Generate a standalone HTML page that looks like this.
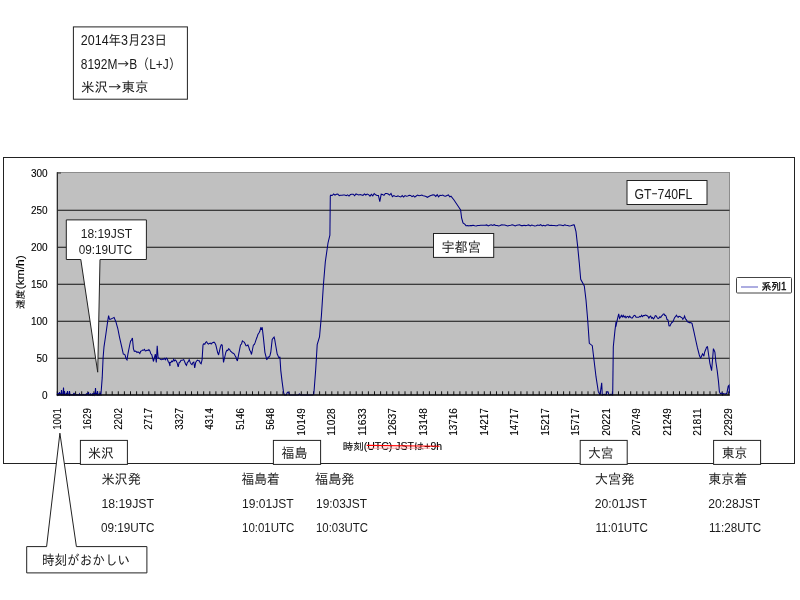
<!DOCTYPE html>
<html lang="ja"><head><meta charset="utf-8"><title>速度グラフ 米沢→東京</title>
<style>
html,body{margin:0;padding:0;background:#fff;}
body{width:800px;height:600px;overflow:hidden;}
svg{display:block}
text{font-family:"Liberation Sans","IPAGothic","Noto Sans CJK JP",sans-serif;fill:#1a1a1a}
.ax{font-size:10px;fill:#000;stroke:#000;stroke-width:0.1px}
.lg{font-size:10px;fill:#000;stroke:#000;stroke-width:0.3px}
.t{font-size:13.8px}
.l{font-size:12px}
.j{font-family:"IPAGothic","Noto Sans CJK JP",sans-serif}
</style></head><body>
<svg width="800" height="600" viewBox="0 0 800 600">
<rect x="0" y="0" width="800" height="600" fill="#fff"/>
<rect x="3.5" y="157.5" width="791" height="306" fill="#fff" stroke="#222" stroke-width="1"/>
<rect x="57.5" y="172.5" width="672" height="222.5" fill="#c0c0c0" stroke="#8c8c8c" stroke-width="1"/>
<line x1="57.5" x2="729.5" y1="358.2" y2="358.2" stroke="#111" stroke-width="1.05"/>
<line x1="57.5" x2="729.5" y1="321.2" y2="321.2" stroke="#111" stroke-width="1.05"/>
<line x1="57.5" x2="729.5" y1="284.2" y2="284.2" stroke="#111" stroke-width="1.05"/>
<line x1="57.5" x2="729.5" y1="247.2" y2="247.2" stroke="#111" stroke-width="1.05"/>
<line x1="57.5" x2="729.5" y1="210.2" y2="210.2" stroke="#111" stroke-width="1.05"/>
<line x1="57.3" x2="57.3" y1="172.3" y2="395.5" stroke="#222" stroke-width="1.2"/>
<line x1="57" x2="61" y1="173" y2="173" stroke="#333" stroke-width="1"/>
<path d="M57.3 391.3V395M63.4 391.3V395M69.5 391.3V395M75.6 391.3V395M81.7 391.3V395M87.8 391.3V395M93.9 391.3V395M100.0 391.3V395M106.1 391.3V395M112.2 391.3V395M118.3 391.3V395M124.4 391.3V395M130.5 391.3V395M136.6 391.3V395M142.7 391.3V395M148.8 391.3V395M154.9 391.3V395M161.0 391.3V395M167.1 391.3V395M173.2 391.3V395M179.3 391.3V395M185.4 391.3V395M191.5 391.3V395M197.6 391.3V395M203.7 391.3V395M209.8 391.3V395M215.9 391.3V395M222.0 391.3V395M228.1 391.3V395M234.2 391.3V395M240.3 391.3V395M246.4 391.3V395M252.5 391.3V395M258.6 391.3V395M264.7 391.3V395M270.8 391.3V395M276.9 391.3V395M283.0 391.3V395M289.1 391.3V395M295.2 391.3V395M301.3 391.3V395M307.4 391.3V395M313.5 391.3V395M319.6 391.3V395M325.7 391.3V395M331.8 391.3V395M337.9 391.3V395M344.0 391.3V395M350.1 391.3V395M356.2 391.3V395M362.3 391.3V395M368.4 391.3V395M374.5 391.3V395M380.6 391.3V395M386.7 391.3V395M392.8 391.3V395M398.9 391.3V395M405.0 391.3V395M411.1 391.3V395M417.2 391.3V395M423.3 391.3V395M429.4 391.3V395M435.5 391.3V395M441.6 391.3V395M447.7 391.3V395M453.8 391.3V395M459.9 391.3V395M466.0 391.3V395M472.1 391.3V395M478.2 391.3V395M484.3 391.3V395M490.4 391.3V395M496.5 391.3V395M502.6 391.3V395M508.7 391.3V395M514.8 391.3V395M520.9 391.3V395M527.0 391.3V395M533.1 391.3V395M539.2 391.3V395M545.3 391.3V395M551.4 391.3V395M557.5 391.3V395M563.6 391.3V395M569.7 391.3V395M575.8 391.3V395M581.9 391.3V395M588.0 391.3V395M594.1 391.3V395M600.2 391.3V395M606.3 391.3V395M612.4 391.3V395M618.5 391.3V395M624.6 391.3V395M630.7 391.3V395M636.8 391.3V395M642.9 391.3V395M649.0 391.3V395M655.1 391.3V395M661.2 391.3V395M667.3 391.3V395M673.4 391.3V395M679.5 391.3V395M685.6 391.3V395M691.7 391.3V395M697.8 391.3V395M703.9 391.3V395M710.0 391.3V395M716.1 391.3V395M722.2 391.3V395M728.3 391.3V395" stroke="#111" stroke-width="1" fill="none"/>
<text x="47.6" y="398.8" class="ax" text-anchor="end">0</text>
<text x="47.6" y="361.8" class="ax" text-anchor="end">50</text>
<text x="47.6" y="324.8" class="ax" text-anchor="end">100</text>
<text x="47.6" y="287.8" class="ax" text-anchor="end">150</text>
<text x="47.6" y="250.8" class="ax" text-anchor="end">200</text>
<text x="47.6" y="213.8" class="ax" text-anchor="end">250</text>
<text x="47.6" y="176.8" class="ax" text-anchor="end">300</text>
<text transform="translate(60.5 429.8) rotate(-90)" class="ax" textLength="21.6" lengthAdjust="spacingAndGlyphs">1001</text>
<text transform="translate(91.0 429.8) rotate(-90)" class="ax" textLength="21.6" lengthAdjust="spacingAndGlyphs">1629</text>
<text transform="translate(121.5 429.8) rotate(-90)" class="ax" textLength="21.6" lengthAdjust="spacingAndGlyphs">2202</text>
<text transform="translate(152.0 429.8) rotate(-90)" class="ax" textLength="21.6" lengthAdjust="spacingAndGlyphs">2717</text>
<text transform="translate(182.5 429.8) rotate(-90)" class="ax" textLength="21.6" lengthAdjust="spacingAndGlyphs">3327</text>
<text transform="translate(213.0 429.8) rotate(-90)" class="ax" textLength="21.6" lengthAdjust="spacingAndGlyphs">4314</text>
<text transform="translate(243.5 429.8) rotate(-90)" class="ax" textLength="21.6" lengthAdjust="spacingAndGlyphs">5146</text>
<text transform="translate(274.0 429.8) rotate(-90)" class="ax" textLength="21.6" lengthAdjust="spacingAndGlyphs">5648</text>
<text transform="translate(304.5 435.8) rotate(-90)" class="ax" textLength="27.6" lengthAdjust="spacingAndGlyphs">10149</text>
<text transform="translate(335.0 435.8) rotate(-90)" class="ax" textLength="27.6" lengthAdjust="spacingAndGlyphs">11028</text>
<text transform="translate(365.5 435.8) rotate(-90)" class="ax" textLength="27.6" lengthAdjust="spacingAndGlyphs">11633</text>
<text transform="translate(396.0 435.8) rotate(-90)" class="ax" textLength="27.6" lengthAdjust="spacingAndGlyphs">12637</text>
<text transform="translate(426.5 435.8) rotate(-90)" class="ax" textLength="27.6" lengthAdjust="spacingAndGlyphs">13148</text>
<text transform="translate(457.0 435.8) rotate(-90)" class="ax" textLength="27.6" lengthAdjust="spacingAndGlyphs">13716</text>
<text transform="translate(487.5 435.8) rotate(-90)" class="ax" textLength="27.6" lengthAdjust="spacingAndGlyphs">14217</text>
<text transform="translate(518.0 435.8) rotate(-90)" class="ax" textLength="27.6" lengthAdjust="spacingAndGlyphs">14717</text>
<text transform="translate(548.5 435.8) rotate(-90)" class="ax" textLength="27.6" lengthAdjust="spacingAndGlyphs">15217</text>
<text transform="translate(579.0 435.8) rotate(-90)" class="ax" textLength="27.6" lengthAdjust="spacingAndGlyphs">15717</text>
<text transform="translate(609.5 435.8) rotate(-90)" class="ax" textLength="27.6" lengthAdjust="spacingAndGlyphs">20221</text>
<text transform="translate(640.0 435.8) rotate(-90)" class="ax" textLength="27.6" lengthAdjust="spacingAndGlyphs">20749</text>
<text transform="translate(670.5 435.8) rotate(-90)" class="ax" textLength="27.6" lengthAdjust="spacingAndGlyphs">21249</text>
<text transform="translate(701.0 435.8) rotate(-90)" class="ax" textLength="27.6" lengthAdjust="spacingAndGlyphs">21811</text>
<text transform="translate(731.5 435.8) rotate(-90)" class="ax" textLength="27.6" lengthAdjust="spacingAndGlyphs">22929</text>
<text transform="translate(24.2 309) rotate(-90)" class="ax"><tspan textLength="19.5" lengthAdjust="spacingAndGlyphs">速度</tspan><tspan x="19.7" textLength="34" lengthAdjust="spacingAndGlyphs">(km/h)</tspan></text>
<text x="342.7" y="450" class="ax" textLength="99.5" lengthAdjust="spacingAndGlyphs">時刻(UTC) JSTは+9h</text>
<line x1="366.7" y1="445.4" x2="439.5" y2="446.3" stroke="#f00" stroke-width="1.1"/>
<line x1="366.7" y1="448.2" x2="430" y2="448.2" stroke="#ff9a9a" stroke-width="0.9"/>
<path d="M57.5 393.0 L58.0 395.0 L58.5 394.0 L59.0 395.0 L59.5 392.0 L60.0 395.0 L60.5 393.5 L61.0 395.0 L61.5 390.0 L62.0 395.0 L62.5 394.5 L63.0 395.0 L63.5 387.5 L64.0 395.0 L64.5 391.0 L65.0 395.0 L65.5 394.5 L66.0 395.0 L66.5 393.0 L67.0 395.0 L67.5 391.0 L68.0 395.0 L68.5 394.5 L69.0 395.0 L69.5 391.0 L70.0 395.0 L70.5 394.5 L71.0 395.0 L71.5 394.7 L72.0 395.0 L72.5 394.7 L73.0 395.0 L73.5 393.8 L74.0 395.0 L74.5 393.8 L75.0 395.0 L75.5 394.7 L76.0 395.0 L76.5 394.5 L77.0 395.0 L77.5 394.7 L78.0 395.0 L78.5 394.8 L79.0 395.0 L79.5 393.8 L80.0 395.0 L80.5 394.7 L81.0 395.0 L81.5 394.8 L82.0 395.0 L82.5 394.7 L83.0 395.0 L83.5 394.5 L84.0 395.0 L84.5 394.8 L85.0 395.0 L85.5 394.7 L86.0 395.0 L86.5 393.5 L87.0 395.0 L87.5 393.5 L88.0 395.0 L88.5 392.0 L89.0 395.0 L89.5 394.5 L90.0 395.0 L90.5 394.0 L91.0 395.0 L91.5 394.5 L92.0 395.0 L92.5 393.5 L93.0 395.0 L93.5 394.0 L94.0 395.0 L94.5 393.0 L95.0 395.0 L95.5 388.0 L96.0 395.0 L96.5 394.0 L97.0 395.0 L97.5 391.0 L98.0 395.0 L98.5 394.5 L99.0 395.0 L99.5 393.5 L100.0 395.0 L100.5 393.0 L101.0 395.0 L100.9 395.0 L102.2 377.9 L103.1 357.8 L104.0 346.8 L105.9 334.0 L107.7 321.1 L108.6 315.7 L109.5 319.3 L110.5 319.3 L112.3 318.4 L114.1 317.5 L116.0 322.1 L117.8 328.5 L119.6 337.6 L121.5 345.9 L123.3 354.1 L124.2 354.2 L125.1 355.0 L126.0 358.4 L127.0 359.8 L127.9 354.1 L129.7 345.0 L130.6 341.1 L131.5 340.0 L132.4 338.0 L133.4 348.6 L134.3 351.4 L135.2 351.0 L136.1 351.5 L137.0 352.6 L137.9 351.8 L138.9 352.5 L139.8 353.5 L140.7 351.2 L141.6 350.9 L142.5 350.1 L143.4 350.3 L144.4 349.4 L145.3 351.0 L146.2 350.8 L147.1 350.1 L148.0 350.6 L148.9 349.6 L149.9 350.9 L150.8 353.8 L151.7 354.5 L152.6 357.9 L153.5 361.5 L155.3 354.1 L156.3 362.4 L157.2 345.9 L158.1 357.8 L159.0 358.2 L159.9 358.9 L160.8 359.4 L161.8 359.7 L162.7 359.1 L163.6 359.2 L164.5 358.4 L165.4 359.7 L166.3 358.1 L167.3 359.1 L168.2 361.5 L169.1 362.8 L170.0 366.0 L170.0 362.4 L170.9 362.5 L171.8 361.0 L172.7 361.6 L173.7 359.3 L174.6 360.9 L175.5 360.0 L176.4 361.3 L177.3 363.3 L178.2 367.0 L179.2 362.4 L180.1 362.0 L181.0 360.3 L181.9 360.2 L182.8 360.0 L183.7 359.6 L184.7 361.7 L185.6 364.2 L186.5 365.3 L187.4 362.4 L188.3 361.7 L189.2 359.6 L190.2 362.4 L191.1 364.0 L192.0 364.7 L192.9 362.5 L193.8 362.0 L194.7 367.9 L195.7 362.4 L196.6 361.0 L197.5 360.1 L198.4 360.7 L199.3 360.7 L200.2 363.0 L201.1 363.8 L202.1 359.6 L203.0 345.0 L203.9 343.7 L204.8 344.2 L205.7 342.3 L206.6 341.7 L207.6 343.5 L208.5 344.1 L209.4 343.4 L210.3 343.1 L211.2 344.0 L212.1 343.0 L213.1 342.5 L214.0 342.2 L214.9 343.0 L215.8 344.9 L217.6 352.3 L218.6 355.0 L220.4 346.8 L221.3 344.7 L222.2 345.1 L223.5 362.4 L225.0 356.0 L225.9 352.2 L226.8 350.3 L227.7 350.6 L228.6 348.8 L229.5 349.3 L230.5 351.1 L231.4 351.9 L232.3 352.7 L233.2 353.2 L234.1 353.8 L235.0 355.6 L236.0 357.3 L236.7 359.6 L237.4 361.0 L238.7 354.1 L240.5 345.0 L241.5 344.0 L242.4 340.9 L243.3 341.6 L244.2 342.1 L245.1 343.8 L246.0 345.7 L247.0 345.8 L247.9 344.9 L248.8 347.1 L249.7 350.2 L250.6 351.5 L251.5 354.5 L253.4 345.0 L254.3 344.6 L255.2 342.4 L256.1 339.6 L257.0 337.3 L257.9 334.5 L258.9 333.0 L259.8 331.3 L260.7 328.0 L261.4 328.9 L262.2 327.2 L263.4 337.6 L264.9 352.3 L266.7 359.3 L267.5 358.8 L268.2 357.1 L268.9 357.1 L269.9 355.7 L270.8 352.2 L272.2 339.5 L273.2 338.2 L274.1 337.1 L274.7 339.3 L275.3 343.0 L277.2 354.1 L277.9 355.4 L278.6 357.4 L279.3 357.6 L279.9 356.7 L280.8 370.6 L282.1 381.6 L283.6 392.6 L284.5 395.0 L285.0 395.0 L286.2 395.0 L287.4 392.3 L288.6 392.3 L289.8 395.0 L291.0 395.0 L292.2 395.0 L293.4 395.0 L294.6 395.0 L295.8 395.0 L297.0 395.0 L298.2 395.0 L299.4 394.0 L300.6 395.0 L301.8 395.0 L303.0 395.0 L304.2 395.0 L305.4 395.0 L306.6 395.0 L307.8 395.0 L309.0 395.0 L310.2 395.0 L311.4 395.0 L312.6 395.0 L313.8 394.5 L315.7 369.5 L317.2 344.6 L319.5 337.0 L321.4 315.8 L323.4 285.0 L325.3 262.0 L328.0 243.0 L329.9 235.2 L330.3 196.0 L330.8 195.2 L332.2 195.5 L333.6 194.0 L335.0 195.2 L336.4 194.2 L337.8 194.0 L339.2 195.6 L340.6 195.2 L342.0 195.3 L343.4 195.0 L344.8 195.1 L346.2 195.7 L347.6 194.9 L349.0 196.1 L350.4 194.6 L351.8 194.3 L353.2 194.2 L354.6 195.7 L356.0 193.9 L357.4 194.5 L358.8 195.0 L360.2 194.6 L361.6 194.9 L363.0 195.3 L364.4 193.9 L365.8 195.0 L367.2 194.1 L368.6 194.6 L370.0 196.1 L371.4 194.4 L372.8 195.8 L374.2 193.5 L375.6 194.8 L377.0 195.4 L378.4 195.4 L379.8 201.6 L381.2 194.2 L382.6 194.6 L384.0 195.4 L385.4 193.5 L386.8 193.5 L388.2 194.0 L389.6 195.1 L391.0 193.5 L392.4 196.6 L393.8 195.5 L395.2 196.2 L396.6 196.5 L398.0 195.9 L399.4 196.6 L400.8 197.0 L402.2 195.6 L403.6 197.1 L405.0 195.6 L406.4 196.3 L407.8 196.0 L409.2 195.3 L410.6 195.4 L412.0 196.6 L413.4 195.7 L414.8 197.1 L416.2 196.0 L417.6 195.1 L419.0 195.7 L420.4 195.4 L421.8 195.1 L423.2 195.8 L424.6 196.1 L426.0 196.5 L427.4 197.3 L428.8 196.5 L430.2 195.7 L431.6 195.3 L433.0 194.9 L434.4 195.1 L435.8 196.4 L437.2 194.7 L438.6 196.9 L440.0 195.2 L441.4 195.4 L442.8 195.1 L444.2 196.1 L445.6 196.3 L447.0 195.5 L448.4 195.0 L449.8 196.9 L451.0 196.2 L454.0 200.0 L458.0 206.0 L460.6 210.0 L461.6 218.0 L463.0 223.0 L465.0 224.4 L466.0 225.8 L468.0 225.6 L468.7 225.9 L470.2 225.5 L471.7 225.6 L473.2 225.2 L474.7 225.8 L476.2 225.9 L477.7 225.6 L479.2 225.4 L480.7 225.2 L482.2 225.2 L483.7 225.3 L485.2 225.2 L486.7 224.9 L488.2 226.0 L489.7 225.2 L491.2 224.8 L492.7 225.4 L494.2 224.7 L495.7 225.4 L497.2 225.4 L498.7 225.9 L500.2 225.5 L501.7 224.7 L503.2 224.9 L504.7 225.1 L506.2 225.5 L507.7 225.9 L509.2 225.4 L510.7 225.3 L512.2 224.8 L513.7 225.3 L515.2 226.0 L516.7 225.3 L518.2 225.0 L519.7 224.8 L521.2 225.6 L522.7 225.6 L524.2 225.3 L525.7 225.6 L527.2 225.3 L528.7 224.9 L530.2 225.9 L531.7 225.1 L533.2 225.6 L534.7 225.9 L536.2 225.7 L537.7 225.0 L539.2 225.5 L540.7 224.7 L542.2 225.8 L543.7 225.3 L545.2 225.9 L546.7 225.1 L548.2 224.9 L549.7 225.4 L551.2 225.3 L552.7 225.5 L554.2 225.5 L555.7 225.7 L557.2 225.7 L558.7 224.9 L560.2 224.9 L561.7 225.2 L563.2 225.7 L564.7 224.9 L566.2 225.3 L567.7 225.6 L569.2 226.0 L570.7 225.7 L572.2 225.3 L573.7 224.9 L574.3 225.0 L576.0 231.7 L577.7 246.7 L579.3 263.3 L580.7 279.3 L584.3 286.0 L586.0 300.0 L587.7 320.0 L589.3 343.3 L592.3 345.7 L594.0 360.0 L596.0 376.7 L598.3 391.7 L600.0 395.0 L601.7 382.7 L602.3 395.0 L603.0 394.6 L604.0 394.2 L605.0 394.6 L606.0 394.6 L607.0 391.8 L608.0 391.8 L609.0 395.0 L610.0 395.0 L611.0 394.2 L612.0 395.0 L612.7 395.0 L613.3 346.7 L615.0 330.0 L616.0 322.0 L615.9 326.6 L617.2 320.2 L618.7 313.8 L619.6 318.4 L620.5 317.1 L621.4 315.4 L622.3 317.0 L623.2 315.4 L624.2 317.1 L625.1 316.2 L626.0 317.8 L626.9 316.6 L627.8 316.4 L628.7 317.6 L629.7 316.2 L630.6 317.4 L631.5 317.9 L632.4 317.9 L633.3 316.5 L634.2 315.3 L635.2 315.7 L636.1 317.2 L637.0 317.3 L637.9 317.3 L638.8 317.3 L639.7 316.4 L640.7 316.9 L641.6 315.3 L642.5 316.7 L643.4 315.5 L644.3 315.6 L645.2 315.1 L646.1 315.3 L647.1 315.8 L648.0 316.4 L648.9 318.1 L649.8 316.7 L650.7 316.0 L651.6 318.3 L652.6 317.6 L653.5 318.9 L654.4 317.8 L655.3 315.6 L656.2 315.9 L657.1 317.5 L658.1 318.5 L659.0 318.1 L659.9 316.8 L660.8 317.5 L661.7 315.8 L662.5 315.2 L663.3 314.0 L664.1 314.1 L664.8 315.4 L665.6 315.3 L666.3 316.9 L667.0 319.5 L667.8 319.7 L668.4 321.9 L669.0 325.7 L670.0 325.9 L670.9 323.9 L671.8 322.4 L672.7 322.0 L673.6 320.1 L674.5 317.7 L675.5 316.7 L676.4 315.3 L677.3 316.6 L678.2 317.2 L679.1 316.3 L680.0 316.4 L681.0 317.2 L681.9 317.6 L682.8 319.4 L683.7 318.3 L684.6 316.1 L685.5 319.0 L686.5 319.9 L687.4 321.7 L688.3 322.0 L689.2 322.6 L690.1 322.5 L691.0 322.8 L692.0 323.4 L693.8 331.2 L695.6 339.5 L697.4 347.7 L699.3 355.0 L700.0 357.0 L700.7 358.0 L701.7 355.7 L702.6 353.8 L703.2 354.8 L703.9 356.2 L704.5 352.7 L705.1 351.0 L705.9 349.0 L706.6 347.1 L707.5 346.8 L708.4 353.2 L709.9 363.3 L711.6 370.6 L712.7 357.8 L713.4 348.6 L714.1 350.2 L714.9 352.1 L715.8 361.5 L717.2 370.6 L718.5 381.6 L719.4 391.7 L720.3 393.7 L721.3 393.3 L722.0 393.0 L722.7 394.9 L723.4 393.6 L724.0 393.7 L724.7 394.0 L725.5 394.1 L726.1 393.6 L726.8 393.7 L728.2 386.2 L729.0 385.3 L729.5 393.5" fill="none" stroke="#000080" stroke-width="1.05" stroke-linejoin="miter" stroke-miterlimit="3"/>
<line x1="56.7" x2="729.8" y1="395" y2="395" stroke="#0a0a0a" stroke-width="1.4"/>
<rect x="736.5" y="277.5" width="55" height="15.5" rx="1" fill="#fff" stroke="#444" stroke-width="1"/>
<line x1="741" x2="758" y1="287" y2="287" stroke="#6a6ac8" stroke-width="1.1"/>
<text x="761.5" y="290" class="lg" textLength="25" lengthAdjust="spacingAndGlyphs">系列1</text>
<rect x="73.4" y="26.9" width="114.0" height="72.3" fill="#fff" stroke="#222" stroke-width="1"/>
<text x="80.8" y="45.3" class="t" textLength="86.2" lengthAdjust="spacingAndGlyphs">2014年3月23日</text>
<text x="80.8" y="68.5" class="t" textLength="100" lengthAdjust="spacingAndGlyphs">8192M<tspan class="j">→</tspan>B（L+J）</text>
<text x="81.0" y="92.4" class="t" textLength="67.5" lengthAdjust="spacingAndGlyphs">米沢<tspan class="j">→</tspan>東京</text>
<path d="M66.3 219.9H146.4V259.5H100L97.7 372.2L80.8 259.5H66.3Z" fill="#fff" stroke="#222" stroke-width="1"/>
<text x="80.7" y="237.8" class="l" textLength="51.5" lengthAdjust="spacingAndGlyphs">18:19JST</text>
<text x="78.8" y="254" class="l" textLength="53.4" lengthAdjust="spacingAndGlyphs">09:19UTC</text>
<rect x="433.5" y="233.5" width="60.2" height="23.9" fill="#fff" stroke="#222" stroke-width="1"/>
<text x="441.4" y="251.6" class="t" textLength="39.4" lengthAdjust="spacingAndGlyphs">宇都宮</text>
<rect x="627" y="180.5" width="80.0" height="24.0" fill="#fff" stroke="#222" stroke-width="1"/>
<text x="634.5" y="198.5" class="t" textLength="57.8" lengthAdjust="spacingAndGlyphs">GT<tspan class="j">-</tspan>740FL</text>
<rect x="80.4" y="440.4" width="47.0" height="24.0" fill="#fff" stroke="#222" stroke-width="1"/>
<text x="88" y="458" class="t" textLength="26" lengthAdjust="spacingAndGlyphs">米沢</text>
<rect x="273.4" y="440.4" width="47.2" height="24.0" fill="#fff" stroke="#222" stroke-width="1"/>
<text x="281.6" y="458" class="t" textLength="25.6" lengthAdjust="spacingAndGlyphs">福島</text>
<rect x="580.2" y="440.4" width="47.0" height="24.0" fill="#fff" stroke="#222" stroke-width="1"/>
<text x="587.9" y="458" class="t" textLength="25.6" lengthAdjust="spacingAndGlyphs">大宮</text>
<rect x="713.6" y="440.4" width="47.0" height="24.0" fill="#fff" stroke="#222" stroke-width="1"/>
<text x="721.8" y="458" class="t" textLength="25.6" lengthAdjust="spacingAndGlyphs">東京</text>
<path d="M59.9 433.2L76.4 546.6H146.9V572.9H26.7V546.6H46.6Z" fill="#fff" stroke="#222" stroke-width="1"/>
<text x="41.9" y="564.6" class="t" textLength="88.3" lengthAdjust="spacingAndGlyphs">時刻がおかしい</text>
<text x="101.4" y="483.6" class="t" textLength="39.6" lengthAdjust="spacingAndGlyphs">米沢発</text>
<text x="101.4" y="508" class="l" textLength="52.6" lengthAdjust="spacingAndGlyphs">18:19JST</text>
<text x="101" y="532.4" class="l" textLength="53.4" lengthAdjust="spacingAndGlyphs">09:19UTC</text>
<text x="241.6" y="483.6" class="t" textLength="38" lengthAdjust="spacingAndGlyphs">福島着</text>
<text x="242" y="508" class="l" textLength="51.6" lengthAdjust="spacingAndGlyphs">19:01JST</text>
<text x="242" y="532.4" class="l" textLength="52.4" lengthAdjust="spacingAndGlyphs">10:01UTC</text>
<text x="315" y="483.6" class="t" textLength="39.4" lengthAdjust="spacingAndGlyphs">福島発</text>
<text x="316" y="508" class="l" textLength="51" lengthAdjust="spacingAndGlyphs">19:03JST</text>
<text x="316" y="532.4" class="l" textLength="52" lengthAdjust="spacingAndGlyphs">10:03UTC</text>
<text x="594.7" y="483.6" class="t" textLength="39.9" lengthAdjust="spacingAndGlyphs">大宮発</text>
<text x="594.7" y="508" class="l" textLength="52.3" lengthAdjust="spacingAndGlyphs">20:01JST</text>
<text x="595.6" y="532.4" class="l" textLength="52.2" lengthAdjust="spacingAndGlyphs">11:01UTC</text>
<text x="708.3" y="483.6" class="t" textLength="39.1" lengthAdjust="spacingAndGlyphs">東京着</text>
<text x="708.3" y="508" class="l" textLength="52" lengthAdjust="spacingAndGlyphs">20:28JST</text>
<text x="708.9" y="532.4" class="l" textLength="52.2" lengthAdjust="spacingAndGlyphs">11:28UTC</text>
</svg>
</body></html>
